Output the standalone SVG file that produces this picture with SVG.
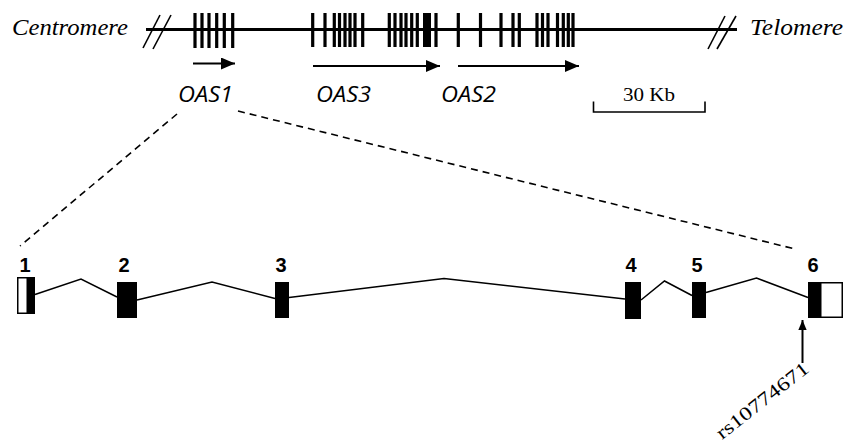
<svg xmlns="http://www.w3.org/2000/svg" width="856" height="444" viewBox="0 0 856 444">
<defs>
<marker id="ah" viewBox="0 0 14 12" refX="14" refY="6" markerWidth="14" markerHeight="12" markerUnits="userSpaceOnUse" orient="auto">
<path d="M0,0 L14,6 L0,12 Z" fill="#000"/>
</marker>
<marker id="ah2" viewBox="0 0 10 12" refX="12" refY="5" markerWidth="12" markerHeight="10" markerUnits="userSpaceOnUse" orient="auto">
<path d="M0,0 L12,5 L0,10 Z" fill="#000"/>
</marker>
</defs>
<style>
.end{font-family:"Liberation Serif",serif;font-style:italic;font-size:23px;fill:#000}
.gene{font-family:"Open Sans","Liberation Sans",sans-serif;font-style:italic;font-size:22px;fill:#000}
.num{font-family:"Liberation Sans",Arial,sans-serif;font-weight:bold;font-size:20px;fill:#000;text-anchor:middle}
.bar{stroke:#000;stroke-width:3.2}
.thin{stroke:#000;stroke-width:1.6;fill:none}
.dash{stroke:#000;stroke-width:1.6;stroke-dasharray:7 5;fill:none}
.intron{stroke:#000;stroke-width:1.5;fill:none}
.arr{stroke:#000;stroke-width:2;fill:none;marker-end:url(#ah)}
</style>
<rect width="856" height="444" fill="#fff"/>

<g id="chromosome">
<text class="end" x="12" y="35" textLength="116" lengthAdjust="spacingAndGlyphs">Centromere</text>
<line x1="146" y1="29.5" x2="737" y2="29.5" stroke="#000" stroke-width="3.2"/>
<line x1="143" y1="48" x2="160" y2="15" class="thin" stroke-width="2"/>
<line x1="153" y1="49" x2="171" y2="15" class="thin" stroke-width="2"/>
<line x1="708" y1="49" x2="725" y2="16" class="thin" stroke-width="2"/>
<line x1="717" y1="49" x2="736" y2="16" class="thin" stroke-width="2"/>
<text class="end" x="750" y="35" textLength="93" lengthAdjust="spacingAndGlyphs">Telomere</text>
</g>

<g id="OAS1">
<path class="bar" d="M195,13V48M202,13V48M209,13V48M216.7,13V48M224.3,13V48M232.7,13V48"/>
<line x1="193" y1="63.5" x2="235" y2="63.5" class="arr"/>
<text class="gene" x="178" y="102" textLength="55" lengthAdjust="spacingAndGlyphs">OAS1</text>
</g>

<g id="OAS3">
<path class="bar" d="M312.7,13V47M325,13V47M334.3,13V47M339.5,13V47M345,13V47M350,13V47M355,13V47M362.7,13V47M389.3,13V47M395,13V47M401,13V47M406,13V47M411.7,13V47M417.3,13V47M436,13V47"/>
<rect x="423" y="13" width="8" height="34" fill="#000"/>
<line x1="313" y1="66" x2="440" y2="66" class="arr"/>
<text class="gene" x="316" y="102" textLength="55" lengthAdjust="spacingAndGlyphs">OAS3</text>
</g>

<g id="OAS2">
<path class="bar" d="M458.3,13V47M480.5,13V47M501,13V47M513,13V47M519.3,13V47M537,13V47M542.5,13V47M548,13V47M557.5,13V47M563.3,13V47M568.3,13V47M573,13V47"/>
<line x1="458" y1="66" x2="579" y2="66" class="arr"/>
<text class="gene" x="441" y="102" textLength="55" lengthAdjust="spacingAndGlyphs">OAS2</text>
</g>

<g id="scale">
<path d="M593.5,101.5V112H705V101.5" class="thin" stroke-width="1.5"/>
<text x="649" y="100.5" text-anchor="middle" font-family="Liberation Serif,serif" font-size="19" textLength="52" lengthAdjust="spacingAndGlyphs">30 Kb</text>
</g>

<g id="exon1">
<rect x="17.75" y="277.75" width="16.5" height="35.5" fill="#fff" stroke="#000" stroke-width="1.5"/>
<rect x="26.5" y="277" width="8.5" height="37" fill="#000"/>
<text class="num" x="25" y="272">1</text>
</g>
<g id="exon2">
<rect x="117" y="282" width="20" height="36" fill="#000"/>
<text class="num" x="124" y="272">2</text>
</g>
<g id="exon3">
<rect x="275" y="282" width="14" height="36" fill="#000"/>
<text class="num" x="281" y="272">3</text>
</g>
<g id="exon4">
<rect x="625" y="282" width="16" height="37" fill="#000"/>
<text class="num" x="631" y="272">4</text>
</g>
<g id="exon5">
<rect x="692" y="282" width="14" height="36" fill="#000"/>
<text class="num" x="697" y="272">5</text>
</g>
<g id="exon6">
<rect x="820.75" y="282.75" width="21.5" height="34.5" fill="#fff" stroke="#000" stroke-width="1.5"/>
<rect x="808" y="282" width="12.5" height="36" fill="#000"/>
<text class="num" x="813" y="272">6</text>
</g>

<g id="snp">
<text x="0" y="0" transform="translate(722,440) rotate(-38)" font-family="Liberation Serif,serif" font-size="19" textLength="112" lengthAdjust="spacingAndGlyphs">rs10774671</text>
</g>

<g id="connectors">
<line x1="177" y1="114" x2="20" y2="246" class="dash"/>
<line x1="238" y1="111" x2="795" y2="249" class="dash"/>
<polyline class="intron" points="35,294.5 81,279 117,297"/>
<polyline class="intron" points="137,300 212,282 275,298.5"/>
<polyline class="intron" points="289,297.5 444,278.5 625,299"/>
<polyline class="intron" points="641,300 664.5,281 692,295.5"/>
<polyline class="intron" points="706,292.5 756.5,278 808,297.5"/>
<line x1="802.5" y1="363" x2="802.5" y2="320" stroke="#000" stroke-width="2" marker-end="url(#ah2)"/>
</g>
</svg>
